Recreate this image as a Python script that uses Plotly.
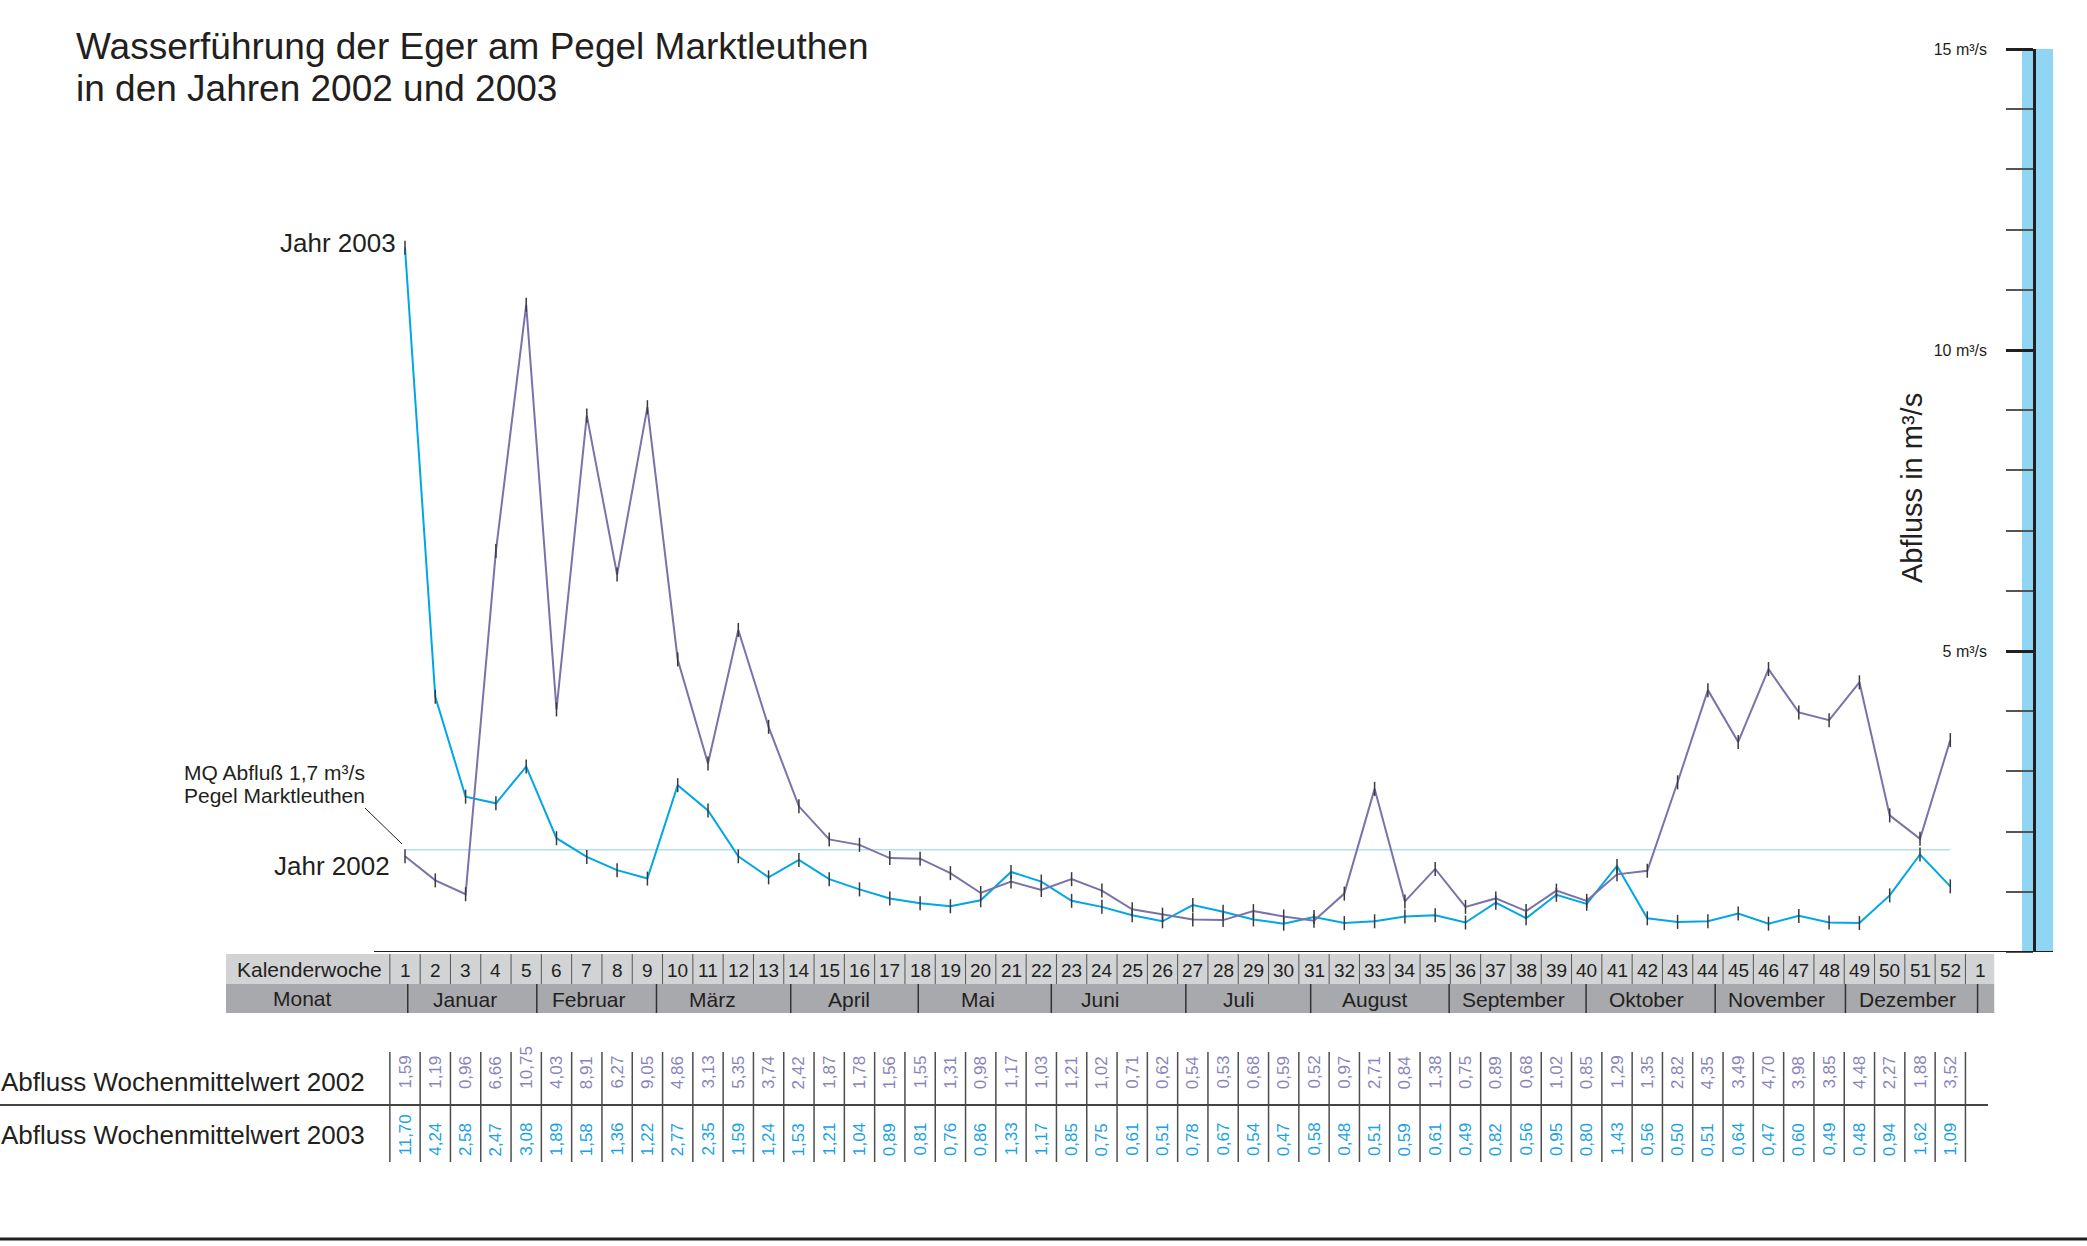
import plotly.graph_objects as go

# ---------------- data ----------------
weeks = list(range(1, 53))
q2002 = [1.59, 1.19, 0.96, 6.66, 10.75, 4.03, 8.91, 6.27, 9.05, 4.86, 3.13, 5.35, 3.74,
         2.42, 1.87, 1.78, 1.56, 1.55, 1.31, 0.98, 1.17, 1.03, 1.21, 1.02, 0.71, 0.62,
         0.54, 0.53, 0.68, 0.59, 0.52, 0.97, 2.71, 0.84, 1.38, 0.75, 0.89, 0.68, 1.02,
         0.85, 1.29, 1.35, 2.82, 4.35, 3.49, 4.70, 3.98, 3.85, 4.48, 2.27, 1.88, 3.52]
q2003 = [11.70, 4.24, 2.58, 2.47, 3.08, 1.89, 1.58, 1.36, 1.22, 2.77, 2.35, 1.59, 1.24,
         1.53, 1.21, 1.04, 0.89, 0.81, 0.76, 0.86, 1.33, 1.17, 0.85, 0.75, 0.61, 0.51,
         0.78, 0.67, 0.54, 0.47, 0.58, 0.48, 0.51, 0.59, 0.61, 0.49, 0.82, 0.56, 0.95,
         0.80, 1.43, 0.56, 0.50, 0.51, 0.64, 0.47, 0.60, 0.49, 0.48, 0.94, 1.62, 1.09]
mq = 1.7
kw_labels = [str(w) for w in weeks] + ["1"]
months = ["Januar", "Februar", "März", "April", "Mai", "Juni", "Juli", "August",
          "September", "Oktober", "November", "Dezember"]
y_tick_vals = [5, 10, 15]
y_tick_text = ["5 m³/s", "10 m³/s", "15 m³/s"]

# ---------------- layout helpers ----------------
W, H = 2087, 1246
X0PX, DXPX = 405.0, 30.3          # pixel of week 1, pixels per week
FONT = "Liberation Sans, Arial, Helvetica, sans-serif"
INK = "#231f20"
C2002 = "#7b72aa"
C2003 = "#00a6e6"
T2002 = "#8a84bb"
T2003 = "#1aa2e2"


def px(x):
    return x / W


def py(y):
    return 1 - y / H


def wk(xpix):
    return 1 + (xpix - X0PX) / DXPX


def label(x, y, text, size, xref="paper", xanchor="center", yanchor="middle",
          color=INK, angle=0):
    return dict(x=x, y=y, xref=xref, yref="paper", text=text, showarrow=False,
                xanchor=xanchor, yanchor=yanchor, textangle=angle, borderpad=0,
                font=dict(size=size, color=color, family=FONT))


month_bounds = [1.09, 5.35, 9.30, 13.73, 17.94, 22.33, 26.77, 30.89, 35.46, 39.98,
                44.24, 48.54, 52.9]
month_centers = [2.98, 7.06, 11.14, 15.66, 19.92, 23.96, 28.52, 33.0, 37.57, 41.96,
                 46.26, 50.6]

fig = go.Figure()

fig.add_trace(go.Scatter(x=[weeks[0], weeks[-1]], y=[mq, mq], mode="lines",
                         line=dict(color="#b3dff2", width=1.5), hoverinfo="skip"))
fig.add_trace(go.Scatter(x=weeks, y=q2003, mode="lines+markers",
                         line=dict(color=C2003, width=2),
                         marker=dict(symbol="line-ns-open", size=10, color="#3a3a3a",
                                     line=dict(width=1.5, color="#3a3a3a"))))
fig.add_trace(go.Scatter(x=weeks, y=q2002, mode="lines+markers",
                         line=dict(color=C2002, width=2),
                         marker=dict(symbol="line-ns-open", size=10, color="#3a3a3a",
                                     line=dict(width=1.5, color="#3a3a3a"))))

shapes = []
ann = []

# blue band behind the axis
shapes.append(dict(type="rect", xref="paper", yref="y", x0=px(2022), x1=px(2053), y0=0, y1=15,
                   fillcolor="#8fd6f4", line=dict(width=0), layer="below"))
# baseline
shapes.append(dict(type="line", xref="paper", yref="y", x0=px(374), x1=px(2053), y0=0, y1=0,
                   line=dict(color=INK, width=2)))

# ---- Kalenderwoche row ----
shapes.append(dict(type="rect", xref="x", yref="paper", x0=wk(226), x1=53.45,
                   y0=py(984), y1=py(954), fillcolor="#d1d3d4", line=dict(width=0)))
shapes.append(dict(type="rect", xref="x", yref="paper", x0=wk(226), x1=53.45,
                   y0=py(1013), y1=py(984), fillcolor="#a7a9ac", line=dict(width=0)))
for i in range(len(kw_labels)):
    xb = i + 0.5
    shapes.append(dict(type="line", xref="x", yref="paper", x0=xb, x1=xb,
                       y0=py(984), y1=py(954), line=dict(color="#555555", width=1)))
    ann.append(label(i + 1, py(970), kw_labels[i], 19, xref="x"))
ann.append(label(px(309), py(969), "Kalenderwoche", 21))

# ---- Monat row ----
for b in month_bounds:
    shapes.append(dict(type="line", xref="x", yref="paper", x0=b, x1=b,
                       y0=py(1013), y1=py(984), line=dict(color="#333333", width=1.5)))
for m, c in zip(months, month_centers):
    ann.append(label(c, py(999), m, 21, xref="x"))
ann.append(label(px(302), py(998), "Monat", 21))

# ---- value table ----
for i in range(len(weeks) + 1):
    xb = i + 0.5
    shapes.append(dict(type="line", xref="x", yref="paper", x0=xb, x1=xb,
                       y0=py(1162), y1=py(1052), line=dict(color="#4d4d4d", width=1.5)))
shapes.append(dict(type="line", xref="paper", yref="paper", x0=0, x1=px(1988),
                   y0=py(1105), y1=py(1105), line=dict(color="#444444", width=2)))
shapes.append(dict(type="line", xref="paper", yref="paper", x0=0, x1=1,
                   y0=py(1239), y1=py(1239), line=dict(color=INK, width=3)))

for w, v in zip(weeks, q2002):
    ann.append(label(w, py(1090), f"{v:.2f}".replace(".", ","), 17, xref="x",
                     yanchor="bottom", color=T2002, angle=-90))
for w, v in zip(weeks, q2003):
    ann.append(label(w, py(1157), f"{v:.2f}".replace(".", ","), 17, xref="x",
                     yanchor="bottom", color=T2003, angle=-90))

ann.append(label(px(366), py(1082), "Abfluss Wochenmittelwert 2002", 26, xanchor="right"))
ann.append(label(px(366), py(1135), "Abfluss Wochenmittelwert 2003", 26, xanchor="right"))

# ---- title ----
ann.append(label(px(75), py(47), "Wasserführung der Eger am Pegel Marktleuthen", 37,
                 xanchor="left"))
ann.append(label(px(75), py(88), "in den Jahren 2002 und 2003", 37, xanchor="left"))

# ---- series labels ----
ann.append(label(px(397), py(243), "Jahr 2003", 26, xanchor="right"))
ann.append(label(px(391), py(866), "Jahr 2002", 26, xanchor="right"))
ann.append(label(px(183), py(772), "MQ Abfluß 1,7 m³/s", 21, xanchor="left"))
ann.append(label(px(183), py(795), "Pegel Marktleuthen", 21, xanchor="left"))
shapes.append(dict(type="line", xref="paper", yref="paper", x0=px(365), y0=py(808),
                   x1=px(402), y1=py(844), line=dict(color=INK, width=1)))

# axis title
ann.append(label(px(1912), py(488), "Abfluss in m³/s", 29, angle=-90))

fig.update_layout(
    template="none",
    width=W, height=H, margin=dict(l=0, r=0, t=0, b=0, pad=0, autoexpand=False),
    paper_bgcolor="white", plot_bgcolor="rgba(0,0,0,0)", showlegend=False,
    font=dict(family=FONT, color=INK),
    xaxis=dict(range=[1 - X0PX / DXPX, 1 + (W - X0PX) / DXPX], domain=[0, 1],
               visible=False, fixedrange=True, automargin=False),
    yaxis=dict(range=[0, 15], domain=[(H - 952) / H, (H - 49) / H],
               anchor="free", position=2034 / W, side="left", automargin=False,
               showline=True, linecolor=INK, linewidth=2.5,
               ticks="outside", ticklen=27, tickwidth=2.5, tickcolor=INK,
               tickvals=y_tick_vals, ticktext=y_tick_text,
               tickfont=dict(size=16, color=INK, family=FONT),
               ticklabelstandoff=16,
               minor=dict(dtick=1, tick0=0, ticks="outside", ticklen=27, tickwidth=1.5,
                          tickcolor="#555555", showgrid=False),
               showgrid=False, zeroline=False, fixedrange=True),
    shapes=shapes, annotations=ann,
)

fig.write_html("out.html", config={"displayModeBar": False},
               post_script="document.body.style.margin='0px';document.body.style.overflow='hidden';")
